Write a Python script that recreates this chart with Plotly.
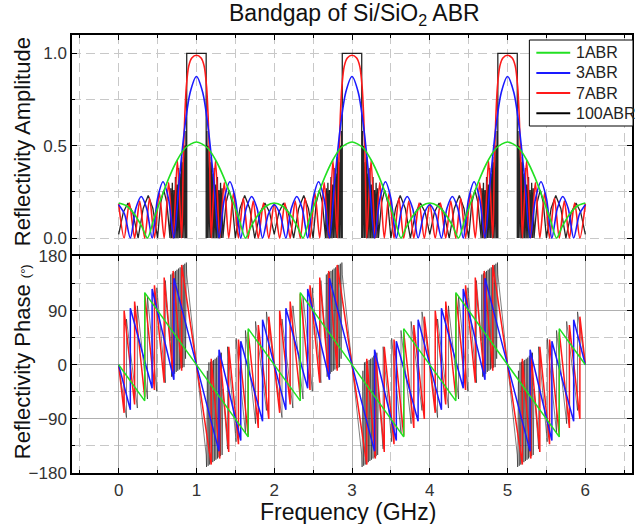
import plotly.graph_objects as go

# ---------------- data ----------------
# Reflectivity amplitude, 1ABR
amp_1abr_f = [0, 0.1, 0.2, 0.3, 0.37, 0.45, 0.55, 0.65, 0.75, 0.85, 0.93, 1.0, 1.07, 1.15, 1.25, 1.35, 1.45, 1.55, 1.63, 1.7, 1.8, 1.9,
              2.0, 2.1, 2.2, 2.3, 2.37, 2.45, 2.55, 2.65, 2.75, 2.85, 2.93, 3.0, 3.07, 3.15, 3.25, 3.35, 3.45, 3.55, 3.63, 3.7, 3.8, 3.9,
              4.0, 4.1, 4.2, 4.3, 4.37, 4.45, 4.55, 4.65, 4.75, 4.85, 4.93, 5.0, 5.07, 5.15, 5.25, 5.35, 5.45, 5.55, 5.63, 5.7, 5.8, 5.9,
              6.0]
amp_1abr = [0.19, 0.175, 0.13, 0.06, 0.0, 0.10, 0.22, 0.33, 0.42, 0.485, 0.51, 0.52, 0.51, 0.485, 0.42, 0.33, 0.22, 0.10, 0.0, 0.06, 0.13, 0.175,
            0.19, 0.175, 0.13, 0.06, 0.0, 0.10, 0.22, 0.33, 0.42, 0.485, 0.51, 0.52, 0.51, 0.485, 0.42, 0.33, 0.22, 0.10, 0.0, 0.06, 0.13, 0.175,
            0.19, 0.175, 0.13, 0.06, 0.0, 0.10, 0.22, 0.33, 0.42, 0.485, 0.51, 0.52, 0.51, 0.485, 0.42, 0.33, 0.22, 0.10, 0.0, 0.06, 0.13, 0.175,
            0.19]

# Reflectivity amplitude, 3ABR
amp_3abr_f = [0, 0.075, 0.15, 0.22, 0.29, 0.36, 0.43, 0.50, 0.57, 0.64, 0.71, 0.78, 0.85, 0.92, 1.0, 1.08, 1.15, 1.22, 1.29, 1.36, 1.43, 1.50, 1.57, 1.64, 1.71, 1.78, 1.85, 1.925,
              2.0, 2.075, 2.15, 2.22, 2.29, 2.36, 2.43, 2.50, 2.57, 2.64, 2.71, 2.78, 2.85, 2.92, 3.0, 3.08, 3.15, 3.22, 3.29, 3.36, 3.43, 3.50, 3.57, 3.64, 3.71, 3.78, 3.85, 3.925,
              4.0, 4.075, 4.15, 4.22, 4.29, 4.36, 4.43, 4.50, 4.57, 4.64, 4.71, 4.78, 4.85, 4.92, 5.0, 5.08, 5.15, 5.22, 5.29, 5.36, 5.43, 5.50, 5.57, 5.64, 5.71, 5.78, 5.85, 5.925,
              6.0]
amp_3abr = [0.18, 0.13, 0.0, 0.16, 0.225, 0.16, 0.0, 0.215, 0.305, 0.215, 0.0, 0.32, 0.60, 0.79, 0.875, 0.79, 0.60, 0.32, 0.0, 0.215, 0.305, 0.215, 0.0, 0.16, 0.225, 0.16, 0.0, 0.13,
            0.18, 0.13, 0.0, 0.16, 0.225, 0.16, 0.0, 0.215, 0.305, 0.215, 0.0, 0.32, 0.60, 0.79, 0.875, 0.79, 0.60, 0.32, 0.0, 0.215, 0.305, 0.215, 0.0, 0.16, 0.225, 0.16, 0.0, 0.13,
            0.18, 0.13, 0.0, 0.16, 0.225, 0.16, 0.0, 0.215, 0.305, 0.215, 0.0, 0.32, 0.60, 0.79, 0.875, 0.79, 0.60, 0.32, 0.0, 0.215, 0.305, 0.215, 0.0, 0.16, 0.225, 0.16, 0.0, 0.13,
            0.18]

# Reflectivity amplitude, 7ABR
amp_7abr_f = [0, 0.07, 0.1375, 0.205, 0.27, 0.335, 0.3975, 0.46, 0.5225, 0.585, 0.6425, 0.70, 0.755, 0.81, 0.83, 0.85, 0.87, 0.90, 0.94, 1.0, 1.06, 1.10, 1.13, 1.15, 1.17, 1.19, 1.245, 1.30, 1.3575, 1.415, 1.4775, 1.54, 1.6025, 1.665, 1.73, 1.795, 1.8625, 1.93,
              2.0, 2.07, 2.1375, 2.205, 2.27, 2.335, 2.3975, 2.46, 2.5225, 2.585, 2.6425, 2.70, 2.755, 2.81, 2.83, 2.85, 2.87, 2.90, 2.94, 3.0, 3.06, 3.10, 3.13, 3.15, 3.17, 3.19, 3.245, 3.30, 3.3575, 3.415, 3.4775, 3.54, 3.6025, 3.665, 3.73, 3.795, 3.8625, 3.93,
              4.0, 4.07, 4.1375, 4.205, 4.27, 4.335, 4.3975, 4.46, 4.5225, 4.585, 4.6425, 4.70, 4.755, 4.81, 4.83, 4.85, 4.87, 4.90, 4.94, 5.0, 5.06, 5.10, 5.13, 5.15, 5.17, 5.19, 5.245, 5.30, 5.3575, 5.415, 5.4775, 5.54, 5.6025, 5.665, 5.73, 5.795, 5.8625, 5.93,
              6.0]
amp_7abr = [0.185, 0, 0.19, 0, 0.20, 0, 0.215, 0, 0.245, 0, 0.30, 0, 0.42, 0, 0.40, 0.66, 0.82, 0.93, 0.975, 0.99, 0.975, 0.93, 0.82, 0.66, 0.40, 0, 0.42, 0, 0.30, 0, 0.245, 0, 0.215, 0, 0.20, 0, 0.19, 0,
            0.185, 0, 0.19, 0, 0.20, 0, 0.215, 0, 0.245, 0, 0.30, 0, 0.42, 0, 0.40, 0.66, 0.82, 0.93, 0.975, 0.99, 0.975, 0.93, 0.82, 0.66, 0.40, 0, 0.42, 0, 0.30, 0, 0.245, 0, 0.215, 0, 0.20, 0, 0.19, 0,
            0.185, 0, 0.19, 0, 0.20, 0, 0.215, 0, 0.245, 0, 0.30, 0, 0.42, 0, 0.40, 0.66, 0.82, 0.93, 0.975, 0.99, 0.975, 0.93, 0.82, 0.66, 0.40, 0, 0.42, 0, 0.30, 0, 0.245, 0, 0.215, 0, 0.20, 0, 0.19, 0,
            0.185]

# Reflectivity amplitude, 100ABR
amp_100abr_f = [0, 0.06, 0.12, 0.18, 0.25, 0.315, 0.38, 0.44, 0.50, 0.54, 0.58, 0.62, 0.66, 0.67, 0.68, 0.69, 0.70, 0.71, 0.72, 0.73, 0.74, 0.75, 0.76, 0.77, 0.78, 0.79, 0.80, 0.81, 0.82, 0.83, 0.84, 0.85, 0.86, 0.865, 0.875, 0.875,
                1.125, 1.125, 1.135, 1.14, 1.15, 1.16, 1.17, 1.18, 1.19, 1.20, 1.21, 1.22, 1.23, 1.24, 1.25, 1.26, 1.27, 1.28, 1.29, 1.30, 1.31, 1.32, 1.33, 1.34, 1.38, 1.42, 1.46, 1.50, 1.56, 1.62, 1.685, 1.75, 1.82, 1.88, 1.94,
                2.0, 2.06, 2.12, 2.18, 2.25, 2.315, 2.38, 2.44, 2.50, 2.54, 2.58, 2.62, 2.66, 2.67, 2.68, 2.69, 2.70, 2.71, 2.72, 2.73, 2.74, 2.75, 2.76, 2.77, 2.78, 2.79, 2.80, 2.81, 2.82, 2.83, 2.84, 2.85, 2.86, 2.865, 2.875, 2.875,
                3.125, 3.125, 3.135, 3.14, 3.15, 3.16, 3.17, 3.18, 3.19, 3.20, 3.21, 3.22, 3.23, 3.24, 3.25, 3.26, 3.27, 3.28, 3.29, 3.30, 3.31, 3.32, 3.33, 3.34, 3.38, 3.42, 3.46, 3.50, 3.56, 3.62, 3.685, 3.75, 3.82, 3.88, 3.94,
                4.0, 4.06, 4.12, 4.18, 4.25, 4.315, 4.38, 4.44, 4.50, 4.54, 4.58, 4.62, 4.66, 4.67, 4.68, 4.69, 4.70, 4.71, 4.72, 4.73, 4.74, 4.75, 4.76, 4.77, 4.78, 4.79, 4.80, 4.81, 4.82, 4.83, 4.84, 4.85, 4.86, 4.865, 4.875, 4.875,
                5.125, 5.125, 5.135, 5.14, 5.15, 5.16, 5.17, 5.18, 5.19, 5.20, 5.21, 5.22, 5.23, 5.24, 5.25, 5.26, 5.27, 5.28, 5.29, 5.30, 5.31, 5.32, 5.33, 5.34, 5.38, 5.42, 5.46, 5.50, 5.56, 5.62, 5.685, 5.75, 5.82, 5.88, 5.94,
                6.0]
amp_100abr = [0.02, 0.14, 0.19, 0.14, 0, 0.16, 0.23, 0.16, 0, 0.19, 0.26, 0.19, 0, 0.27, 0, 0.30, 0, 0.26, 0, 0.33, 0, 0.29, 0, 0.38, 0, 0.35, 0, 0.44, 0, 0.41, 0, 0.50, 0, 0.58, 0, 1.0,
              1.0, 0, 0.58, 0, 0.50, 0, 0.41, 0, 0.44, 0, 0.35, 0, 0.38, 0, 0.29, 0, 0.33, 0, 0.26, 0, 0.30, 0, 0.27, 0, 0.19, 0.26, 0.19, 0, 0.16, 0.23, 0.16, 0, 0.14, 0.19, 0.14,
              0.02, 0.14, 0.19, 0.14, 0, 0.16, 0.23, 0.16, 0, 0.19, 0.26, 0.19, 0, 0.27, 0, 0.30, 0, 0.26, 0, 0.33, 0, 0.29, 0, 0.38, 0, 0.35, 0, 0.44, 0, 0.41, 0, 0.50, 0, 0.58, 0, 1.0,
              1.0, 0, 0.58, 0, 0.50, 0, 0.41, 0, 0.44, 0, 0.35, 0, 0.38, 0, 0.29, 0, 0.33, 0, 0.26, 0, 0.30, 0, 0.27, 0, 0.19, 0.26, 0.19, 0, 0.16, 0.23, 0.16, 0, 0.14, 0.19, 0.14,
              0.02, 0.14, 0.19, 0.14, 0, 0.16, 0.23, 0.16, 0, 0.19, 0.26, 0.19, 0, 0.27, 0, 0.30, 0, 0.26, 0, 0.33, 0, 0.29, 0, 0.38, 0, 0.35, 0, 0.44, 0, 0.41, 0, 0.50, 0, 0.58, 0, 1.0,
              1.0, 0, 0.58, 0, 0.50, 0, 0.41, 0, 0.44, 0, 0.35, 0, 0.38, 0, 0.29, 0, 0.33, 0, 0.26, 0, 0.30, 0, 0.27, 0, 0.19, 0.26, 0.19, 0, 0.16, 0.23, 0.16, 0, 0.14, 0.19, 0.14,
              0.02]

# Reflectivity phase (degrees), 1ABR
ph_1abr_f = [0, 0.335, 0.335, 1.0, 1.665, 1.665, 2.335, 2.335, 3.0, 3.665, 3.665, 4.335, 4.335, 5.0, 5.665, 5.665, 6.0]
ph_1abr = [0, -60, 120, 0, -120, 60, -60, 120, 0, -120, 60, -60, 120, 0, -120, 60, 0]

# Reflectivity phase, 3ABR
ph_3abr_f = [0, 0.15, 0.15, 0.43, 0.43, 0.71, 0.71, 1.0, 1.29, 1.29, 1.57, 1.57, 1.85, 1.85,
             2.0, 2.15, 2.15, 2.43, 2.43, 2.71, 2.71, 3.0, 3.29, 3.29, 3.57, 3.57, 3.85, 3.85,
             4.0, 4.15, 4.15, 4.43, 4.43, 4.71, 4.71, 5.0, 5.29, 5.29, 5.57, 5.57, 5.85, 5.85,
             6.0]
ph_3abr = [0, -75, 94, -39, 126, -25, 144, 0, -144, 25, -126, 39, -94, 75,
           0, -75, 94, -39, 126, -25, 144, 0, -144, 25, -126, 39, -94, 75,
           0, -75, 94, -39, 126, -25, 144, 0, -144, 25, -126, 39, -94, 75,
           0]

# Reflectivity phase, 7ABR
ph_7abr_f = [0, 0.07, 0.07, 0.205, 0.205, 0.335, 0.335, 0.46, 0.46, 0.585, 0.585, 0.70, 0.70, 0.81, 0.81, 1.0, 1.19, 1.19, 1.30, 1.30, 1.415, 1.415, 1.54, 1.54, 1.665, 1.665, 1.795, 1.795, 1.93, 1.93,
             2.0, 2.07, 2.07, 2.205, 2.205, 2.335, 2.335, 2.46, 2.46, 2.585, 2.585, 2.70, 2.70, 2.81, 2.81, 3.0, 3.19, 3.19, 3.30, 3.30, 3.415, 3.415, 3.54, 3.54, 3.665, 3.665, 3.795, 3.795, 3.93, 3.93,
             4.0, 4.07, 4.07, 4.205, 4.205, 4.335, 4.335, 4.46, 4.46, 4.585, 4.585, 4.70, 4.70, 4.81, 4.81, 5.0, 5.19, 5.19, 5.30, 5.30, 5.415, 5.415, 5.54, 5.54, 5.665, 5.665, 5.795, 5.795, 5.93, 5.93,
             6.0]
ph_7abr = [0, -80, 90, -66, 105, -54, 118, -42, 132, -30, 145, -20, 156, -10, 166, 0, -166, 10, -156, 20, -145, 30, -132, 42, -118, 54, -105, 66, -90, 80,
           0, -80, 90, -66, 105, -54, 118, -42, 132, -30, 145, -20, 156, -10, 166, 0, -166, 10, -156, 20, -145, 30, -132, 42, -118, 54, -105, 66, -90, 80,
           0, -80, 90, -66, 105, -54, 118, -42, 132, -30, 145, -20, 156, -10, 166, 0, -166, 10, -156, 20, -145, 30, -132, 42, -118, 54, -105, 66, -90, 80,
           0]

# Reflectivity phase, 100ABR
ph_100abr_f = [0, 0.10, 0.10, 0.24, 0.24, 0.37, 0.37, 0.49, 0.49, 0.60, 0.60, 0.66, 0.67, 0.68, 0.69, 0.70, 0.71, 0.72, 0.73, 0.74, 0.75, 0.76, 0.77, 0.78, 0.79, 0.80, 0.81, 0.82, 0.83, 0.84, 0.85, 0.86, 0.87, 0.875, 1.0,
               1.125, 1.13, 1.14, 1.15, 1.16, 1.17, 1.18, 1.19, 1.20, 1.21, 1.22, 1.23, 1.24, 1.25, 1.26, 1.27, 1.28, 1.29, 1.30, 1.31, 1.32, 1.33, 1.34, 1.40, 1.40, 1.51, 1.51, 1.63, 1.63, 1.76, 1.76, 1.90, 1.90,
               2.0, 2.10, 2.10, 2.24, 2.24, 2.37, 2.37, 2.49, 2.49, 2.60, 2.60, 2.66, 2.67, 2.68, 2.69, 2.70, 2.71, 2.72, 2.73, 2.74, 2.75, 2.76, 2.77, 2.78, 2.79, 2.80, 2.81, 2.82, 2.83, 2.84, 2.85, 2.86, 2.87, 2.875, 3.0,
               3.125, 3.13, 3.14, 3.15, 3.16, 3.17, 3.18, 3.19, 3.20, 3.21, 3.22, 3.23, 3.24, 3.25, 3.26, 3.27, 3.28, 3.29, 3.30, 3.31, 3.32, 3.33, 3.34, 3.40, 3.40, 3.51, 3.51, 3.63, 3.63, 3.76, 3.76, 3.90, 3.90,
               4.0, 4.10, 4.10, 4.24, 4.24, 4.37, 4.37, 4.49, 4.49, 4.60, 4.60, 4.66, 4.67, 4.68, 4.69, 4.70, 4.71, 4.72, 4.73, 4.74, 4.75, 4.76, 4.77, 4.78, 4.79, 4.80, 4.81, 4.82, 4.83, 4.84, 4.85, 4.86, 4.87, 4.875, 5.0,
               5.125, 5.13, 5.14, 5.15, 5.16, 5.17, 5.18, 5.19, 5.20, 5.21, 5.22, 5.23, 5.24, 5.25, 5.26, 5.27, 5.28, 5.29, 5.30, 5.31, 5.32, 5.33, 5.34, 5.40, 5.40, 5.51, 5.51, 5.63, 5.63, 5.76, 5.76, 5.90, 5.90,
               6.0]
ph_100abr = [0, -88, 76, -72, 98, -57, 114, -44, 128, -30, 140, 40, 150, -20, 152, -18, 154, -15, 156, -12, 158, -10, 160, -8, 162, -6, 164, -5, 166, -4, 168, 10, 170, 150, 0,
             -150, -170, -10, -168, 4, -166, 5, -164, 6, -162, 8, -160, 10, -158, 12, -156, 15, -154, 18, -152, 20, -150, -40, -140, 30, -128, 44, -114, 57, -98, 72, -76, 88,
             0, -88, 76, -72, 98, -57, 114, -44, 128, -30, 140, 40, 150, -20, 152, -18, 154, -15, 156, -12, 158, -10, 160, -8, 162, -6, 164, -5, 166, -4, 168, 10, 170, 150, 0,
             -150, -170, -10, -168, 4, -166, 5, -164, 6, -162, 8, -160, 10, -158, 12, -156, 15, -154, 18, -152, 20, -150, -40, -140, 30, -128, 44, -114, 57, -98, 72, -76, 88,
             0, -88, 76, -72, 98, -57, 114, -44, 128, -30, 140, 40, 150, -20, 152, -18, 154, -15, 156, -12, 158, -10, 160, -8, 162, -6, 164, -5, 166, -4, 168, 10, 170, 150, 0,
             -150, -170, -10, -168, 4, -166, 5, -164, 6, -162, 8, -160, 10, -158, 12, -156, 15, -154, 18, -152, 20, -150, -40, -140, 30, -128, 44, -114, 57, -98, 72, -76, 88,
             0]

series_names = ["1ABR", "3ABR", "7ABR", "100ABR"]
x_ticks = [0, 1, 2, 3, 4, 5, 6]
amp_ticks = [0.0, 0.5, 1.0]
amp_tick_text = ["0.0", "0.5", "1.0"]
phase_ticks = [-180, -90, 0, 90, 180]

# ---------------- styling ----------------
FONT = "Liberation Sans, Arial, sans-serif"
COL = {"1ABR": "#22e022", "3ABR": "#1a1aff", "7ABR": "#ff1a1a", "100ABR": "#000000"}
DASH = "9px,5px"
GRID_DASH_COL = "#c8c8c8"
GRID_SOLID_COL = "#b0b0b0"

amp_data = {"1ABR": (amp_1abr_f, amp_1abr), "3ABR": (amp_3abr_f, amp_3abr),
            "7ABR": (amp_7abr_f, amp_7abr), "100ABR": (amp_100abr_f, amp_100abr)}
ph_data = {"1ABR": (ph_1abr_f, ph_1abr), "3ABR": (ph_3abr_f, ph_3abr),
           "7ABR": (ph_7abr_f, ph_7abr), "100ABR": (ph_100abr_f, ph_100abr)}

fig = go.Figure()
draw_order = ["100ABR", "7ABR", "3ABR", "1ABR"]

for nm in draw_order:
    fx, fy = amp_data[nm]
    if nm == "100ABR":
        line = dict(color="rgba(0,0,0,0.85)", width=1.3)
    else:
        line = dict(color=COL[nm], width=1.6, shape="spline", smoothing=0.8)
    fig.add_trace(go.Scatter(x=fx, y=fy, mode="lines", name=nm, line=line,
                             xaxis="x2", yaxis="y2", showlegend=False))

for nm in draw_order:
    fx, fy = ph_data[nm]
    if nm == "100ABR":
        line = dict(color="rgba(0,0,0,0.5)", width=1.0)
    else:
        line = dict(color=COL[nm], width=1.5)
    fig.add_trace(go.Scatter(x=fx, y=fy, mode="lines", name=nm, line=line,
                             xaxis="x", yaxis="y", showlegend=False))

split = 0.4943
common_x = dict(range=[-0.6, 6.6], tickvals=x_ticks, ticks="inside", ticklen=5, tickwidth=1.2,
                tickcolor="black", showline=True, linecolor="black", linewidth=1.5,
                zeroline=False, showgrid=True, gridwidth=1)

fig.update_layout(
    width=644, height=524,
    margin=dict(l=72, r=10, t=35, b=51),
    paper_bgcolor="white", plot_bgcolor="white",
    font=dict(family=FONT, color="#222"),
    showlegend=False,
    xaxis=dict(**common_x, domain=[0, 1], anchor="y", mirror="ticks",
               gridcolor=GRID_SOLID_COL, griddash="solid",
               tickfont=dict(family=FONT, size=17, color="#333"), ticklabelstandoff=1,
               minor=dict(dtick=0.5, tick0=0, ticks="inside", ticklen=3, tickcolor="black",
                          showgrid=True, gridcolor=GRID_DASH_COL, griddash=DASH)),
    xaxis2=dict(**common_x, domain=[0, 1], anchor="y2", matches="x", side="top", mirror=False,
                showticklabels=False, gridcolor=GRID_DASH_COL, griddash=DASH,
                minor=dict(dtick=0.5, tick0=0, ticks="inside", ticklen=3, tickcolor="black",
                           showgrid=True, gridcolor=GRID_DASH_COL, griddash=DASH)),
    yaxis=dict(domain=[0, split], anchor="x", range=[-180, 180], tickvals=phase_ticks,
               ticks="inside", ticklen=5, tickwidth=1.2, tickcolor="black",
               showline=True, linecolor="black", linewidth=1.5, mirror="ticks", zeroline=False,
               showgrid=True, gridcolor=GRID_SOLID_COL, griddash="solid",
               tickfont=dict(family=FONT, size=17, color="#333"),
               minor=dict(dtick=45, tick0=0, ticks="inside", ticklen=3, tickcolor="black",
                          showgrid=True, gridcolor=GRID_DASH_COL, griddash=DASH)),
    yaxis2=dict(domain=[split, 1], anchor="x2", range=[-0.1, 1.1], tickvals=amp_ticks,
                ticktext=amp_tick_text, ticks="inside", ticklen=5, tickwidth=1.2, tickcolor="black",
                showline=True, linecolor="black", linewidth=1.5, mirror="ticks", zeroline=False,
                showgrid=True, gridcolor=GRID_DASH_COL, griddash=DASH,
                tickfont=dict(family=FONT, size=17, color="#333"),
                minor=dict(dtick=0.25, tick0=0, ticks="inside", ticklen=3, tickcolor="black",
                           showgrid=True, gridcolor=GRID_DASH_COL, griddash=DASH)),
)

# ---- legend box (drawn in the top panel's upper-right corner) ----
def px_x(p):
    return (p - 72) / 562.0

def px_y(p):
    return (473 - p) / 438.0

legend_rows_px = [52.7, 72.9, 93.1, 113.3]
shapes = [dict(type="rect", xref="paper", yref="paper", x0=px_x(531), x1=px_x(635),
               y0=px_y(126), y1=px_y(40), line=dict(color="black", width=1), fillcolor="white",
               layer="above")]
annots = []
for nm, ry in zip(series_names, legend_rows_px):
    shapes.append(dict(type="line", xref="paper", yref="paper", x0=px_x(538), x1=px_x(572),
                       y0=px_y(ry), y1=px_y(ry), line=dict(color=COL[nm], width=2), layer="above"))
    annots.append(dict(text=nm, x=px_x(576), y=px_y(ry), xref="paper", yref="paper",
                       xanchor="left", yanchor="middle", showarrow=False,
                       font=dict(family=FONT, size=16, color="#222")))

annots += [
    dict(text="Bandgap of Si/SiO<sub>2</sub> ABR", x=0.505, y=1.046, xref="paper", yref="paper",
         xanchor="center", yanchor="middle", showarrow=False, font=dict(family=FONT, size=23, color="#111")),
    dict(text="Reflectivity Amplitude", x=-0.089, y=0.7557, xref="paper", yref="paper", textangle=-90,
         xanchor="center", yanchor="middle", showarrow=False, font=dict(family=FONT, size=22, color="#111")),
    dict(text="Reflectivity Phase <span style='font-size:13px'>(°)</span>", x=-0.089, y=0.2534,
         xref="paper", yref="paper", textangle=-90, xanchor="center", yanchor="middle",
         showarrow=False, font=dict(family=FONT, size=22, color="#111")),
    dict(text="Frequency (GHz)", x=0.493, y=-0.088, xref="paper", yref="paper",
         xanchor="center", yanchor="middle", showarrow=False, font=dict(family=FONT, size=23, color="#111")),
]
fig.update_layout(annotations=annots, shapes=shapes)

fig.write_html("out.html")
